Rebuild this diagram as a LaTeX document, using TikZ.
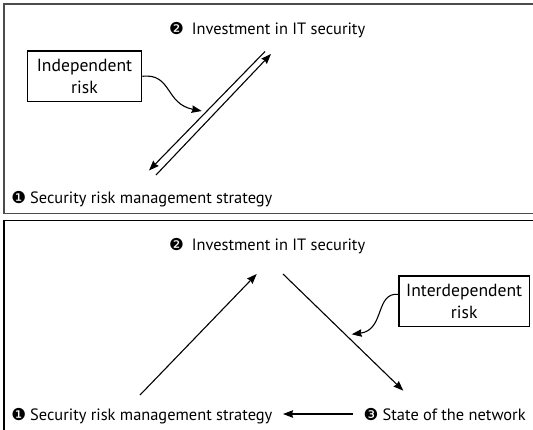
\documentclass[tikz,border=0pt]{standalone}
\usepackage{fontspec}
\setmainfont{PT Sans}
\newfontfamily\dvfont{DejaVu Sans}
\usetikzlibrary{arrows.meta}
\newcommand\numbul[2]{\makebox[#1][l]{\dvfont\fontsize{16.5}{16.5}\selectfont #2}}
\begin{document}
\begin{tikzpicture}[x=1pt,y=-1pt,
  conn/.style={line width=1.1pt, -{Stealth[length=10pt,width=7.5pt,inset=1pt]}},
  riskbox/.style={draw, line width=1.2pt, align=center, inner sep=0pt,
    minimum height=50.7pt, font=\fontsize{17.6}{21.6}\selectfont},
  lbl/.style={anchor=base west, inner sep=0pt, font=\fontsize{16.4}{19}\selectfont},
  frame/.style={line width=1.3pt}]
\useasboundingbox (0,0) rectangle (533,429);
\clip (0,0) rectangle (533,429);
% panels
\draw[frame, black!70] (4,4) rectangle (545,213.5);
\draw[frame] (4,220.5) rectangle (545,440);

% ---- top panel ----
\node[lbl] (t2) at (169,34) {\numbul{22.7pt}{❷}Investment in IT security};
\node[lbl] (t1) at (11.2,203.3) {\numbul{18.8pt}{❶}Security risk management strategy};
\node[riskbox, minimum width=114.4pt] (ibox) at (84.5,76.3) {Independent\\risk};

\coordinate (tA1) at (265,51.5);
\coordinate (tA2) at (149,170.5);
\coordinate (tB1) at (156,175);
\coordinate (tB2) at (271,54);
\coordinate (tC) at (201.7,111);
\draw[conn] (tA1) -- (tA2);
\draw[conn] (tB1) -- (tB2);
\draw[conn] (ibox.east) .. controls (172,73) and (165,104) .. (tC);

% ---- bottom panel ----
\node[lbl] (b2) at (169,250.5) {\numbul{22.7pt}{❷}Investment in IT security};
\node[lbl] (b1) at (11.2,420.5) {\numbul{18.8pt}{❶}Security risk management strategy};
\node[lbl] (b3) at (363.5,420.5) {\numbul{19pt}{❸}State of the network};
\node[riskbox, minimum width=130.3pt] (rbox) at (464.2,301.3) {Interdependent\\risk};

\coordinate (bA1) at (140,395);
\coordinate (bA2) at (256.7,274);
\coordinate (bB1) at (283,274);
\coordinate (bB2) at (403.3,390.7);
\coordinate (bC1) at (353,414);
\coordinate (bC2) at (283,414);
\coordinate (bD) at (351.7,334.3);
\draw[conn] (bA1) -- (bA2);
\draw[conn] (bB1) -- (bB2);
\draw[conn] (bC1) -- (bC2);
\draw[conn] ([yshift=7pt]rbox.west) .. controls (375,292) and (385,330) .. (bD);
\end{tikzpicture}
\end{document}
